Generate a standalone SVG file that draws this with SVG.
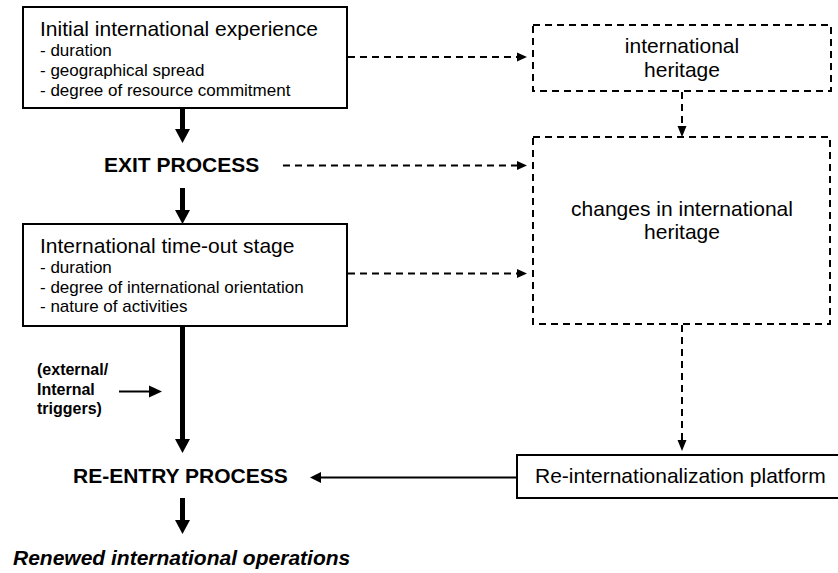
<svg xmlns="http://www.w3.org/2000/svg" width="838" height="573" viewBox="0 0 838 573">
  <defs>
    <style>
      .box { fill: #fff; stroke: #000; stroke-width: 2; }
      .dbox { fill: #fff; stroke: #000; stroke-width: 2; stroke-dasharray: 7 5; }
      .t { font-family: "Liberation Sans", Arial, sans-serif; fill: #000; }
      .title { font-size: 21px; }
      .item { font-size: 17px; }
      .big { font-size: 21px; font-weight: bold; }
      .small { font-size: 16px; font-weight: bold; }
      .thick { stroke: #000; stroke-width: 5; fill: none; }
      .dash { stroke: #000; stroke-width: 2; stroke-dasharray: 7 5; fill: none; }
      .thin { stroke: #000; stroke-width: 2; fill: none; }
      .head { fill: #000; }
    </style>
  </defs>

  <!-- Nodes -->
  <g id="initial-experience">
    <rect class="box" x="23" y="7" width="324" height="101"/>
    <text class="t title" x="40" y="36">Initial international experience</text>
    <text class="t item" x="40" y="56">- duration</text>
    <text class="t item" x="40" y="76">- geographical spread</text>
    <text class="t item" x="40" y="96">- degree of resource commitment</text>
  </g>

  <g id="exit-process">
    <text class="t big" x="104" y="172">EXIT PROCESS</text>
  </g>

  <g id="time-out-stage">
    <rect class="box" x="23" y="224" width="324" height="102"/>
    <text class="t title" x="40" y="253">International time-out stage</text>
    <text class="t item" x="40" y="273">- duration</text>
    <text class="t item" x="40" y="293">- degree of international orientation</text>
    <text class="t item" x="40" y="312">- nature of activities</text>
  </g>

  <g id="triggers">
    <text class="t small" x="37" y="375">(external/</text>
    <text class="t small" x="37" y="395">Internal</text>
    <text class="t small" x="37" y="414">triggers)</text>
  </g>

  <g id="re-entry-process">
    <text class="t big" x="73" y="483">RE-ENTRY PROCESS</text>
  </g>

  <g id="renewed-operations">
    <text class="t big" x="13" y="565" font-style="italic">Renewed international operations</text>
  </g>

  <g id="international-heritage">
    <rect class="dbox" x="533" y="25" width="298" height="66"/>
    <text class="t title" x="682" y="53" text-anchor="middle">international</text>
    <text class="t title" x="682" y="77" text-anchor="middle">heritage</text>
  </g>

  <g id="heritage-changes">
    <rect class="dbox" x="533" y="137" width="297" height="187"/>
    <text class="t title" x="682" y="216" text-anchor="middle">changes in international</text>
    <text class="t title" x="682" y="239" text-anchor="middle">heritage</text>
  </g>

  <g id="platform">
    <rect class="box" x="517" y="455" width="324" height="43"/>
    <text class="t title" x="535" y="483">Re-internationalization platform</text>
  </g>

  <!-- Connectors -->
  <g id="connectors">
    <!-- main vertical flow -->
    <line class="thick" x1="182.5" y1="108" x2="182.5" y2="130"/>
    <polygon class="head" points="175,129 190,129 182.5,143"/>
    <line class="thick" x1="182.5" y1="188" x2="182.5" y2="211"/>
    <polygon class="head" points="175,210 190,210 182.5,224"/>
    <line class="thick" x1="182.5" y1="326" x2="182.5" y2="440"/>
    <polygon class="head" points="175,439 190,439 182.5,453"/>
    <line class="thick" x1="182.5" y1="498" x2="182.5" y2="521"/>
    <polygon class="head" points="175,520 190,520 182.5,534"/>

    <!-- triggers -->
    <line class="thin" x1="119" y1="391.5" x2="150" y2="391.5"/>
    <polygon class="head" points="149,385.5 162,391.5 149,397.5"/>

    <!-- dashed feeds into heritage boxes -->
    <line class="dash" x1="348" y1="57" x2="518" y2="57"/>
    <polygon class="head" points="517,52.5 527,57 517,61.5"/>
    <line class="dash" x1="283" y1="165.5" x2="518" y2="165.5"/>
    <polygon class="head" points="517,161 527,165.5 517,170"/>
    <line class="dash" x1="348" y1="273.5" x2="518" y2="273.5"/>
    <polygon class="head" points="517,269 527,273.5 517,278"/>

    <!-- heritage to changes -->
    <line class="dash" x1="682" y1="92" x2="682" y2="127"/>
    <polygon class="head" points="677.5,126 686.5,126 682,137"/>

    <!-- changes to platform -->
    <line class="dash" x1="682" y1="325" x2="682" y2="441"/>
    <polygon class="head" points="677.5,440 686.5,440 682,451"/>

    <!-- platform to re-entry -->
    <line class="thin" x1="517" y1="477.5" x2="320" y2="477.5"/>
    <polygon class="head" points="321,472 310,477.5 321,483"/>
  </g>
</svg>
